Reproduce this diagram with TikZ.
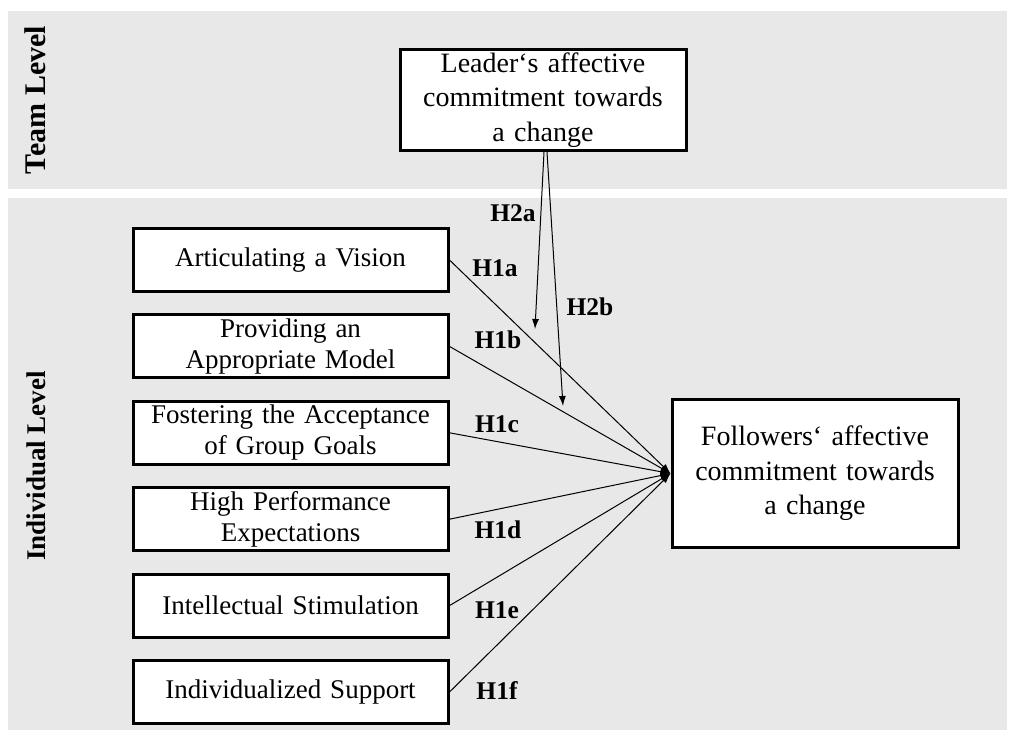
\documentclass[tikz,border=0pt]{standalone}
\usepackage{fontspec}
\setmainfont{Liberation Serif}
\usepackage{tikz}
\usetikzlibrary{arrows.meta, positioning}
\definecolor{levelgray}{RGB}{232,232,232}
\tikzstyle{level} = [fill=levelgray, draw=none]
\tikzstyle{levellabel} = [rotate=90, font=\fontsize{27}{31}\selectfont\bfseries]
\tikzstyle{factor} = [rectangle, minimum width=315pt, minimum height=63pt, text width=310pt, inner sep=1pt, align=center, draw=black, line width=3pt, fill=white, font=\fontsize{27}{31}\selectfont]
\tikzstyle{outcome} = [rectangle, minimum width=286pt, text width=280pt, inner sep=1pt, align=center, draw=black, line width=3pt, fill=white, font=\fontsize{28}{34.5}\selectfont]
\tikzstyle{hyp} = [font=\fontsize{25.5}{27}\selectfont\bfseries]
\tikzstyle{arrow} = [line width=1pt,->,>={Latex[length=10pt,width=7pt]}]

\begin{document}
\begin{tikzpicture}[x=1pt, y=-1pt, node distance=20.4pt]
		\useasboundingbox (0,0) rectangle (1012,737);
		
		% Levels
		\fill [level] (8,11) rectangle (1007,189);
		\fill [level] (8,198) rectangle (1007,730);
		\node (team) [levellabel, font=\fontsize{30}{32}\selectfont\bfseries] at (35,100) {Team Level};
		\node (individual) [levellabel] at (36,466) {Individual Level};
		
		% Nodes
		\node (leader) [outcome, minimum height=101pt] at (543,100) {Leader‘s affective\\commitment towards\\a change};
		\node (vision) [factor] at (290.5,260) {Articulating a Vision};
		\node (model) [factor, below=of vision] {Providing an\\Appropriate Model};
		\node (goals) [factor, below=of model] {Fostering the Acceptance\\of Group Goals};
		\node (expect) [factor, below=of goals] {High Performance\\Expectations};
		\node (stimul) [factor, below=of expect] {Intellectual Stimulation};
		\node (support) [factor, below=of stimul] {Individualized Support};
		\node (follow) [outcome, minimum height=148pt] at (815,473.5) {Followers‘ affective\\commitment towards\\a change};
		
		% Arrows
		\draw [arrow] (vision.east) -- (follow.west);
		\draw [arrow] (model.east) -- (follow.west);
		\draw [arrow] (goals.east) -- (follow.west);
		\draw [arrow] (expect.east) -- (follow.west);
		\draw [arrow] (stimul.east) -- (follow.west);
		\draw [arrow] (support.east) -- (follow.west);
		
		% Moderation
		\coordinate (h2a end) at (535,329);
		\coordinate (h2b end) at (563,406);
		\draw [arrow] ([xshift=1pt]leader.south) -- (h2a end);
		\draw [arrow] ([xshift=4pt]leader.south) -- (h2b end);
		
		% Labels
		\node (h2a) [hyp] at (513,213) {H2a};
		\node (h2b) [hyp] at (590,307) {H2b};
		\node (h1a) [hyp] at (495,268) {H1a};
		\node (h1b) [hyp] at (498,340) {H1b};
		\node (h1c) [hyp] at (497,424) {H1c};
		\node (h1d) [hyp] at (498,530) {H1d};
		\node (h1e) [hyp] at (497,610) {H1e};
		\node (h1f) [hyp] at (497,691) {H1f};
		
	\end{tikzpicture}
\end{document}
